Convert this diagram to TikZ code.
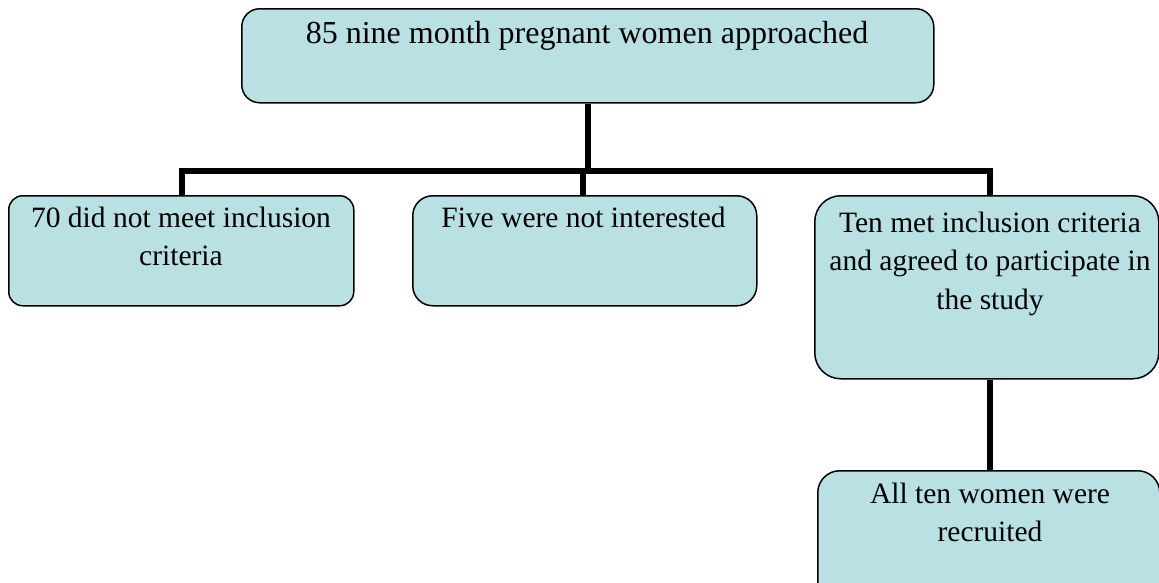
\documentclass[tikz,border=0pt]{standalone}
\usepackage{fontspec}
\setmainfont{Liberation Serif}
\definecolor{boxfill}{RGB}{185,224,227}
\begin{document}
\begin{tikzpicture}[x=1pt,y=-1pt,
  flowbox/.style={draw=black, line width=1.5pt, fill=boxfill, rounded corners=#1,
    inner sep=0pt, anchor=north west},
  flowbox/.default=18pt,
  boxtext/.style={inner sep=0pt, anchor=north, align=center,
    font=\fontsize{29.5}{38.5}\selectfont},
  link/.style={line width=6pt, draw=black, line join=miter}]
  \useasboundingbox (0,0) rectangle (1159,582);
  \clip (0,0) rectangle (1159,582);

  % boxes
  \node[flowbox, minimum width=692pt, minimum height=94pt] (top) at (241,8) {};
  \node[flowbox=14pt, minimum width=345pt, minimum height=110pt] (b1) at (8,195) {};
  \node[flowbox=20pt, minimum width=344pt, minimum height=110pt] (b2) at (412,195) {};
  \node[flowbox=26pt, minimum width=344pt, minimum height=183pt] (b3) at (814,195) {};
  \node[flowbox=22pt, minimum width=342pt, minimum height=140pt] (b4) at (817,470) {};

  % texts
  \node[boxtext, font=\fontsize{32}{40}\selectfont] (ttop) at (587,21) {85 nine month pregnant women approached};
  \node[boxtext] (t1) at (181,206.5) {70 did not meet inclusion\\criteria};
  \node[boxtext] (t2) at (583.5,206.5) {Five were not interested};
  \node[boxtext] (t3) at (990,211.5) {Ten met inclusion criteria\\and agreed to participate in\\the study};
  \node[boxtext] (t4) at (990,482.5) {All ten women were\\recruited};

  % connectors
  \coordinate (d1) at (182,171);
  \coordinate (d2) at (583,171);
  \coordinate (d3) at (990,171);
  \draw[link] (top.south) -- (top.south |- d2);
  \draw[link] (b1.north -| d1) -- (d1) -- (d3) -- (b3.north -| d3);
  \draw[link] (d2) -- (b2.north -| d2);
  \draw[link] (b3.south -| d3) -- (b4.north -| d3);
\end{tikzpicture}
\end{document}
